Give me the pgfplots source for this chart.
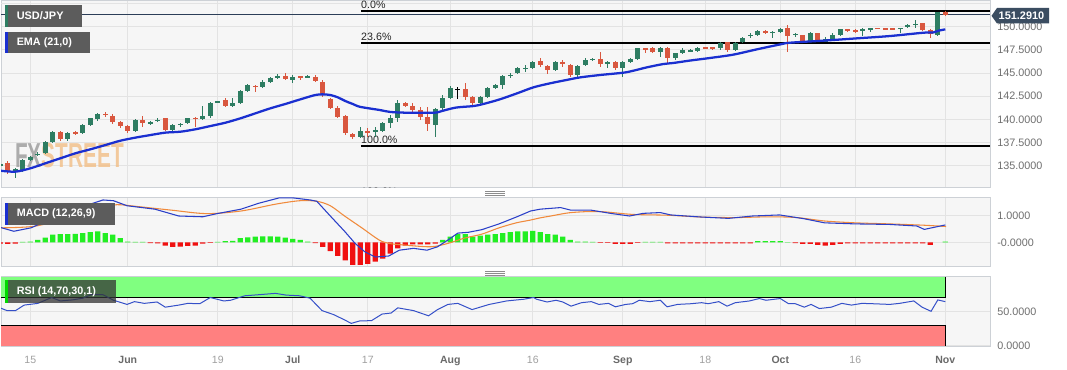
\documentclass[border=0pt]{standalone}
\usepackage{pgfplots}
\pgfplotsset{compat=1.18}
\usepackage{pgfplotstable}
\usepackage{fontspec}
\setmainfont{Liberation Sans}
\definecolor{bgc}{HTML}{F6F6F6}
\definecolor{gridc}{HTML}{E3E3E3}
\definecolor{bordc}{HTML}{CDD1D6}
\definecolor{upc}{HTML}{2E7D62}
\definecolor{dnc}{HTML}{D9573F}
\definecolor{emac}{HTML}{1A2FD0}
\definecolor{pricec}{HTML}{2C3E58}
\definecolor{macdc}{HTML}{2A3FC8}
\definecolor{sigc}{HTML}{F08A3C}
\definecolor{hgc}{HTML}{22EE22}
\definecolor{hrc}{HTML}{F01010}
\definecolor{rsic}{HTML}{3550C8}
\definecolor{obc}{HTML}{80FF80}
\definecolor{osc}{HTML}{FF8080}
\definecolor{tickc}{HTML}{6E6E6E}
\definecolor{dayc}{HTML}{A0A0A0}
\definecolor{monc}{HTML}{6A6A6A}
\definecolor{boxc}{HTML}{5C5C5C}
\definecolor{pboxc}{HTML}{3B4D61}
\definecolor{wmg}{HTML}{9A9A9A}
\definecolor{wmo}{HTML}{F2BE86}
\newcommand{\dl}[1]{\textcolor{dayc}{#1}}
\newcommand{\ml}[1]{\textcolor{monc}{\bfseries #1}}

% up candles: index, open, high, low, close
\pgfplotstableread{
i o h l c
-4 135.05 135.35 134.90 135.20
-2 134.50 134.72 133.64 134.60
-1 134.47 135.75 134.35 135.62
0 135.65 136.10 135.50 135.98
1 136.20 136.50 136.00 136.30
2 136.34 137.70 136.25 137.59
3 137.59 138.75 137.50 138.60
5 137.85 138.60 137.70 138.49
7 138.57 139.50 138.45 139.39
8 139.39 140.20 139.25 140.11
9 140.00 140.65 139.80 140.54
14 138.75 140.00 138.60 139.93
16 139.60 139.85 139.40 139.68
17 139.88 140.15 139.70 139.95
19 138.85 139.50 138.70 139.39
20 139.40 139.60 139.20 139.50
21 139.57 140.20 139.45 140.11
23 140.00 141.44 139.90 140.36
24 140.36 141.90 140.20 141.80
25 141.88 142.00 141.80 141.95
27 141.44 142.27 141.35 141.80
28 141.80 143.20 141.70 143.10
29 143.10 143.85 143.00 143.71
31 143.46 144.20 143.35 144.07
32 144.07 144.60 143.95 144.50
33 144.50 144.85 144.40 144.71
35 144.25 144.75 143.96 144.61
37 144.58 144.75 144.45 144.63
44 138.06 139.21 137.95 138.75
46 138.72 139.14 138.13 138.82
47 138.78 139.70 138.65 139.57
48 139.57 140.47 139.03 140.11
49 140.11 142.09 139.75 141.80
54 139.39 141.20 138.13 141.08
55 141.19 142.63 141.05 142.27
56 142.27 143.60 142.16 143.35
60 141.73 142.55 141.60 142.45
61 142.45 143.45 142.30 143.35
62 143.35 143.85 143.25 143.71
63 143.71 144.80 143.24 144.68
64 144.75 144.97 144.43 144.82
65 144.97 145.60 144.85 145.51
66 145.48 145.86 145.15 145.55
67 145.51 146.35 145.40 146.23
70 145.33 146.35 145.20 146.23
73 144.79 145.90 144.61 145.79
74 145.86 146.58 145.75 146.41
75 146.44 146.65 146.30 146.50
77 145.97 146.35 145.51 146.23
79 145.51 146.35 144.53 146.23
80 146.23 146.60 146.10 146.48
81 146.48 147.75 146.40 147.66
84 147.30 147.85 146.77 147.74
86 146.58 147.20 146.45 147.12
87 147.12 147.74 147.00 147.48
88 147.38 147.60 147.25 147.45
89 147.41 147.84 147.30 147.74
92 147.74 148.30 147.48 148.20
94 147.48 148.30 147.40 148.20
95 148.31 148.92 148.20 148.81
96 149.04 149.28 148.74 149.10
97 149.07 149.65 148.95 149.57
99 149.36 149.50 148.74 149.42
100 149.39 149.85 149.30 149.75
102 149.14 149.35 148.85 149.20
104 148.38 149.39 148.30 149.28
106 148.38 148.92 148.31 148.63
107 148.63 149.28 148.56 149.10
108 149.10 149.80 149.00 149.71
111 149.57 149.85 148.99 149.78
112 149.76 149.85 149.46 149.80
116 149.80 149.88 149.28 149.84
117 149.93 150.25 149.85 150.18
118 150.25 150.72 149.82 150.32
121 149.10 151.62 148.95 151.55
}\up

% down candles
\pgfplotstableread{
i o h l c
-3 135.26 135.51 134.11 134.36
4 138.60 138.70 137.70 137.85
6 138.62 138.80 138.35 138.55
10 140.58 140.75 140.30 140.50
11 140.40 140.60 139.55 139.68
12 139.75 139.85 139.10 139.28
13 139.28 139.40 138.55 138.75
15 139.93 140.36 139.21 139.57
18 140.11 140.20 138.75 138.85
22 140.15 140.30 139.21 140.05
26 142.09 142.27 141.35 141.44
30 143.65 143.70 142.99 143.55
34 144.71 145.04 144.20 144.32
36 144.63 144.72 144.25 144.58
38 144.61 144.75 144.00 144.14
39 144.07 144.20 142.45 142.63
40 142.16 142.30 141.10 141.26
41 141.26 141.40 140.10 140.29
42 140.36 140.50 138.30 138.49
43 138.42 138.55 137.90 138.06
45 138.72 139.03 138.13 138.62
50 141.73 141.85 141.30 141.44
51 141.44 141.73 140.65 141.01
52 141.01 141.37 139.93 140.22
53 140.29 141.37 138.78 139.50
58 143.24 143.89 142.09 142.45
59 142.45 142.55 141.60 141.73
68 146.30 146.58 145.68 145.86
69 145.79 145.90 144.89 145.33
71 146.23 146.41 145.68 145.94
72 145.86 145.95 144.61 144.79
76 146.48 147.30 145.68 145.94
78 146.23 146.35 145.33 145.51
82 147.66 147.70 147.12 147.48
83 147.66 147.84 147.12 147.23
85 147.74 147.85 146.05 146.58
90 147.76 147.82 147.60 147.70
91 147.76 147.80 147.48 147.70
93 148.31 148.40 147.30 147.48
98 149.57 149.65 149.20 149.28
101 149.82 150.18 147.30 149.03
103 149.07 149.15 148.30 148.38
105 149.28 149.35 148.30 148.38
109 149.68 149.75 149.46 149.62
110 149.60 149.71 149.36 149.55
113 149.84 149.90 149.71 149.79
114 149.80 149.90 149.65 149.76
115 149.80 149.85 149.64 149.75
119 150.36 150.45 149.55 149.64
120 149.64 149.70 148.74 149.17
122 151.55 151.70 151.20 151.29
}\dn

\pgfplotstableread{
i o h l c
57 143.22 143.46 142.16 143.26
}\dj

% MACD histogram
\pgfplotstableread{
i v
-1 0.02
0 0.03
1 0.09
2 0.18
3 0.29
4 0.31
5 0.31
6 0.32
7 0.35
8 0.39
9 0.42
10 0.35
11 0.29
12 0.16
13 0.03
14 0.02
15 0.02
25 0.02
26 0.04
27 0.05
28 0.16
29 0.19
30 0.22
31 0.23
32 0.23
33 0.22
34 0.18
35 0.13
36 0.09
37 0.03
55 0.09
56 0.22
57 0.31
58 0.31
59 0.22
60 0.25
61 0.29
62 0.31
63 0.35
64 0.39
65 0.42
66 0.42
67 0.43
68 0.39
69 0.31
70 0.29
71 0.22
72 0.09
73 0.03
74 0.03
75 0.02
82 0.02
83 0.02
84 0.02
97 0.04
98 0.04
99 0.04
100 0.04
101 0.01
122 0.03
}\hpos

\pgfplotstableread{
i v
-4 -0.05
-3 -0.06
-2 -0.05
16 -0.03
17 -0.04
18 -0.13
19 -0.17
20 -0.16
21 -0.14
22 -0.13
23 -0.05
24 -0.02
38 -0.03
39 -0.17
40 -0.34
41 -0.52
42 -0.69
43 -0.86
44 -0.86
45 -0.82
46 -0.73
47 -0.62
48 -0.43
49 -0.23
50 -0.13
51 -0.08
52 -0.08
53 -0.08
54 -0.05
76 -0.02
77 -0.02
78 -0.06
79 -0.06
80 -0.06
81 -0.02
85 -0.04
86 -0.04
87 -0.04
88 -0.04
89 -0.04
90 -0.04
91 -0.04
92 -0.04
93 -0.04
94 -0.04
95 -0.04
96 -0.04
102 -0.03
103 -0.06
104 -0.06
105 -0.10
106 -0.13
107 -0.10
108 -0.06
109 -0.04
110 -0.04
111 -0.04
112 -0.04
113 -0.04
114 -0.04
115 -0.04
116 -0.04
117 -0.04
118 -0.04
119 -0.04
120 -0.10
}\hneg

\pgfplotsset{panel/.style={
  scale only axis, width=741.75pt,
  xmin=-3.907, xmax=127.96,
  axis background/.style={fill=bgc},
  axis line style={draw=bordc, line width=0.75pt},
  xmajorgrids, ymajorgrids, grid style={draw=gridc, line width=0.75pt},
  xtick={0,13,25,35,45,56,67,79,90,100,110,122},
  major tick length=0pt,
  yticklabel pos=right,
  yticklabel style={anchor=west, inner sep=0pt, xshift=5.25pt, font=\fontsize{8.1}{9}\selectfont, text=tickc},
  clip mode=individual,
}}

\begin{document}
\begin{tikzpicture}
\useasboundingbox[fill=white] (0,0) rectangle (800.25pt,-277.5pt);

% ---------------- main price panel ----------------
\begin{axis}[panel, at={(0.75pt,-0.75pt)}, anchor=north west, height=140.25pt,
  ymin=132.60, ymax=152.77,
  ytick={135,137.5,140,142.5,145,147.5,150},
  yticklabels={135.0000,137.5000,140.0000,142.5000,145.0000,147.5000,150.0000},
  extra y ticks={152.5}, extra y tick labels={},
  extra y tick style={grid=major, grid style={draw=gridc, line width=0.75pt}},
  xticklabels={{},{},{},{},{},{},{},{},{},{},{},{}},
]
\node[anchor=base west, inner sep=0pt, opacity=0.8] at (axis cs:-2.04,134.76)
  {\scalebox{0.6}[1]{\fontsize{26}{26}\selectfont\bfseries\textcolor{wmg}{FX}\textcolor{wmo}{STREET}}};
\addplot[pricec, line width=0.7pt, forget plot] coordinates {(-3.907,151.291) (127.96,151.291)};
\addplot[black, line width=1.5pt, forget plot] coordinates {(44.09,151.72) (127.96,151.72)};
\addplot[black, line width=1.5pt, forget plot] coordinates {(44.09,148.29) (127.96,148.29)};
\addplot[black, line width=1.5pt, forget plot] coordinates {(44.09,137.18) (127.96,137.18)};
\node[anchor=base west, inner sep=0pt, yshift=1.5pt, font=\fontsize{8}{9}\selectfont, text=black!85] at (axis cs:44.09,151.72) {0.0\%};
\node[anchor=base west, inner sep=0pt, yshift=1.5pt, font=\fontsize{8}{9}\selectfont, text=black!85] at (axis cs:44.09,148.29) {23.6\%};
\node[anchor=base west, inner sep=0pt, yshift=1.5pt, font=\fontsize{8}{9}\selectfont, text=black!85] at (axis cs:44.09,137.18) {100.0\%};
\begin{scope}
\clip (rel axis cs:0,0) rectangle (rel axis cs:1,1);
\node[anchor=base west, inner sep=0pt, font=\fontsize{8}{9}\selectfont, text=black!85] at (axis cs:44.09,131.78) {138.2\%};
\end{scope}
% wicks
\addplot[forget plot, draw=none, mark=none, error bars/.cd, y dir=both, y explicit, error mark=none,
  error bar style={draw=upc, line width=0.75pt}]
  table[x=i, y expr={(\thisrow{h}+\thisrow{l})/2}, y error expr={(\thisrow{h}-\thisrow{l})/2}] {\up};
\addplot[forget plot, draw=none, mark=none, error bars/.cd, y dir=both, y explicit, error mark=none,
  error bar style={draw=dnc, line width=0.75pt}]
  table[x=i, y expr={(\thisrow{h}+\thisrow{l})/2}, y error expr={(\thisrow{h}-\thisrow{l})/2}] {\dn};
\addplot[forget plot, draw=none, mark=none, error bars/.cd, y dir=both, y explicit, error mark=none,
  error bar style={draw=black, line width=0.75pt}]
  table[x=i, y expr={(\thisrow{h}+\thisrow{l})/2}, y error expr={(\thisrow{h}-\thisrow{l})/2}] {\dj};
% bodies
\addplot[forget plot, draw=none, mark=none, error bars/.cd, y dir=both, y explicit, error mark=none,
  error bar style={draw=upc, line width=3.9pt}]
  table[x=i, y expr={(\thisrow{o}+\thisrow{c})/2}, y error expr={max(abs(\thisrow{c}-\thisrow{o})/2,0.055)}] {\up};
\addplot[forget plot, draw=none, mark=none, error bars/.cd, y dir=both, y explicit, error mark=none,
  error bar style={draw=dnc, line width=3.9pt}]
  table[x=i, y expr={(\thisrow{o}+\thisrow{c})/2}, y error expr={max(abs(\thisrow{c}-\thisrow{o})/2,0.055)}] {\dn};
\addplot[forget plot, draw=none, mark=none, error bars/.cd, y dir=both, y explicit, error mark=none,
  error bar style={draw=black, line width=3.9pt}]
  table[x=i, y expr={(\thisrow{o}+\thisrow{c})/2}, y error expr={max(abs(\thisrow{c}-\thisrow{o})/2,0.055)}] {\dj};
% EMA 21
\addplot[emac, line width=1.7pt, smooth, forget plot] coordinates {
(-4.04,134.47) (-2,134.36) (0,134.72) (2,135.26) (4,135.80) (6,136.34) (8,136.77) (10,137.23)
(12,137.70) (14,138.03) (16,138.31) (18,138.57) (20,138.67) (22,138.93) (24,139.28) (26,139.64)
(28,140.11) (30,140.65) (32,141.19) (34,141.66) (36,142.16) (38,142.63) (39,142.70) (40,142.63)
(41,142.38) (42,141.98) (43,141.66) (44,141.35) (46.6,141.01) (48,140.80) (50.2,140.72) (52.4,140.72)
(54.2,140.74) (55.1,140.95) (56.8,141.28) (59.1,141.44) (60.4,141.66) (62.6,142.16) (64.9,142.81)
(67.1,143.46) (69.3,143.89) (71.5,144.25) (73.3,144.53) (76,144.79) (79.1,145.04) (80.4,145.25)
(82.2,145.61) (84.4,145.97) (85.7,146.08) (88,146.35) (90.6,146.62) (93.7,146.98) (96.85,147.55)
(100,148.09) (101.3,148.27) (105.7,148.49) (110.2,148.74) (114.6,148.99) (119.1,149.35)
(120.4,149.38) (121.1,149.57) (122,149.71)};
\end{axis}

% ---------------- MACD panel ----------------
\begin{axis}[panel, at={(0.75pt,-147.975pt)}, anchor=north west, height=51.525pt,
  ymin=-0.901, ymax=1.711,
  ytick={0,1}, yticklabels={-0.0000,1.0000},
  xticklabels={{},{},{},{},{},{},{},{},{},{},{},{}},
]
\addplot[ybar, bar width=3.9pt, fill=hgc, draw=none, forget plot] table[x=i, y=v] {\hpos};
\addplot[ybar, bar width=3.9pt, fill=hrc, draw=none, forget plot] table[x=i, y=v] {\hneg};
\addplot[sigc, line width=0.8pt, smooth, forget plot] coordinates {
(-4.04,0.55) (0.55,0.61) (5.2,0.94) (9.7,1.32) (11.6,1.43) (14.3,1.36) (18.9,1.22) (23.5,1.09)
(28.1,1.19) (32.7,1.45) (35.9,1.58) (38.2,1.56) (40.0,1.39) (41.9,1.0) (44.2,0.55) (46.5,0.09)
(47.8,-0.04) (49.7,-0.10) (53.4,-0.17) (55.7,-0.04) (57.9,0.16) (60.2,0.31) (62.5,0.55)
(64.8,0.74) (66.6,0.84) (68.0,0.93) (69.4,1.0) (72.1,1.13) (75.8,1.17) (80.3,1.06) (84.9,1.03)
(89.5,0.96) (94.0,0.94) (98.6,0.97) (102.2,0.94) (105.9,0.81) (110.0,0.74) (114.5,0.70)
(119.1,0.65) (122.1,0.60)};
\addplot[macdc, line width=0.8pt, forget plot] coordinates {
(-4.04,0.57) (-2.2,0.42) (0.1,0.55) (5.2,1.19) (9.7,1.61) (11.1,1.58) (12.9,1.39) (16.6,1.26)
(19.8,1.0) (23.0,0.97) (24.9,1.09) (28.1,1.26) (30.4,1.48) (33.2,1.69) (35.0,1.69) (37.3,1.61)
(38.2,1.56) (40.0,1.0) (41.9,0.42) (43.3,-0.04) (44.6,-0.36) (46.0,-0.56) (47.8,-0.52)
(49.2,-0.30) (51.1,-0.23) (52.9,-0.30) (54.3,-0.17) (55.7,0.09) (57.0,0.35) (58.4,0.38)
(60.2,0.48) (62.5,0.70) (64.8,0.96) (66.7,1.19) (68.0,1.26) (70.7,1.32) (72.1,1.22) (74.8,1.22)
(77.6,1.09) (79.9,1.0) (81.7,1.1) (84.0,1.13) (85.4,1.04) (89.5,0.96) (93.1,0.91) (96.3,1.0)
(99.9,1.04) (103.1,0.90) (105.9,0.74) (110.0,0.70) (114.5,0.68) (118.2,0.62) (119.2,0.49)
(122.0,0.66)};
\end{axis}

% ---------------- RSI panel ----------------
\begin{axis}[panel, at={(0.75pt,-207.15pt)}, anchor=north west, height=52.725pt,
  ymin=-1.0, ymax=100.87,
  ytick={0,50}, yticklabels={0.0000,50.0000},
  xticklabels={\dl{15},\ml{Jun},\dl{19},\ml{Jul},\dl{17},\ml{Aug},\dl{16},\ml{Sep},\dl{18},\ml{Oct},\dl{16},\ml{Nov}},
  xticklabel style={anchor=north, inner sep=0pt, yshift=-7pt, font=\fontsize{7.9}{9}\selectfont},
]
\fill[obc] (axis cs:-3.907,70) rectangle (axis cs:122,100);
\fill[osc] (axis cs:-3.907,0) rectangle (axis cs:122,30);
\draw[black, line width=0.6pt] (axis cs:-3.907,70) -- (axis cs:122,70) -- (axis cs:122,100);
\draw[black, line width=0.6pt] (axis cs:-3.907,30) -- (axis cs:122,30) -- (axis cs:122,0);
\addplot[rsic, line width=0.75pt, forget plot] coordinates {
(-4.04,55) (-3.1,51) (-1.97,51) (-0.82,59) (1.0,61.5) (2.85,70) (4.0,65) (5.6,66.5) (7.0,69)
(8.1,74) (9.7,74) (11.1,66) (12.9,60) (13.9,64) (15.2,61.5) (16.9,63.5) (18.0,56) (19.8,59)
(21.0,61.5) (22.6,61) (24.0,70) (25.8,65) (26.7,66) (28.6,72.5) (30.4,74) (32.7,76) (34.1,73.5)
(35.9,72.5) (37.3,69) (38.9,51) (40.5,45) (41.9,37.5) (42.8,32.5) (43.9,36) (45.5,36.5)
(46.9,46) (48.1,47.5) (49.0,55) (51.1,51) (53.1,43.5) (54.3,52.5) (55.7,60) (57.0,61.5)
(58.9,52.5) (61.2,60) (63.5,65) (65.8,67.5) (67.1,70) (67.5,67.5) (68.9,63.5) (70.1,66)
(71.0,63.5) (72.1,57.5) (73.5,62.5) (74.8,64) (75.8,60) (77.1,61.5) (78.0,56.5) (79.4,60)
(80.3,61) (81.2,66) (82.6,64) (84.0,66) (84.9,56.5) (86.3,60) (88.1,61) (89.5,62.5) (90.4,61)
(91.8,64) (92.9,57.5) (94.0,62.5) (95.9,65) (97.2,68.5) (98.1,66) (100.0,68.5) (101.1,61)
(102.0,61) (103.2,56) (104.1,60) (105.2,54) (106.8,56) (108.2,61.5) (109.5,59) (110.9,61.5)
(112.3,61) (114.6,60) (115.9,61.5) (117.8,65) (118.9,56) (120.1,50) (121.0,66.5) (122.0,64)};
\end{axis}

% ---------------- overlays (pixel grid) ----------------
\begin{scope}[x=0.75pt, y=-0.75pt]
\fill[boxc] (5,5) rectangle (82,27);
\fill[upc] (5,5) rectangle (8,27);
\node[anchor=west, inner sep=0pt, text=white, font=\fontsize{8.2}{9}\selectfont\bfseries] at (16.5,16) {USD/JPY};
\fill[boxc] (5,32) rectangle (90,53);
\fill[emac] (5,32) rectangle (8,53);
\node[anchor=west, inner sep=0pt, text=white, font=\fontsize{8.1}{9}\selectfont\bfseries] at (16.5,42.5) {EMA (21,0)};
\fill[boxc] (5,203) rectangle (115,225);
\fill[emac] (5,203) rectangle (8,225);
\node[anchor=west, inner sep=0pt, text=white, font=\fontsize{8.1}{9}\selectfont\bfseries] at (16.5,214) {MACD (12,26,9)};
\fill[black!80, opacity=0.75] (5,280) rectangle (116,303);
\fill[green!85!black] (5,280) rectangle (8,303);
\node[anchor=west, inner sep=0pt, text=white, font=\fontsize{8.1}{9}\selectfont\bfseries] at (16.5,291.5) {RSI (14,70,30,1)};
% current price tag
\fill[pboxc] (991.5,15.8) -- (997,8) -- (1049,8) -- (1049,23.5) -- (997,23.5) -- cycle;
\node[inner sep=0pt, text=white, font=\fontsize{8.2}{9}\selectfont\bfseries] at (1021.5,15.8) {151.2910};
% panel handles
\foreach \yy in {191.3,193.2,195.1,271.3,273.2,275.1}
  \draw[black!45, line width=0.5pt] (485,\yy) -- (505,\yy);
\end{scope}
\end{tikzpicture}
\end{document}
